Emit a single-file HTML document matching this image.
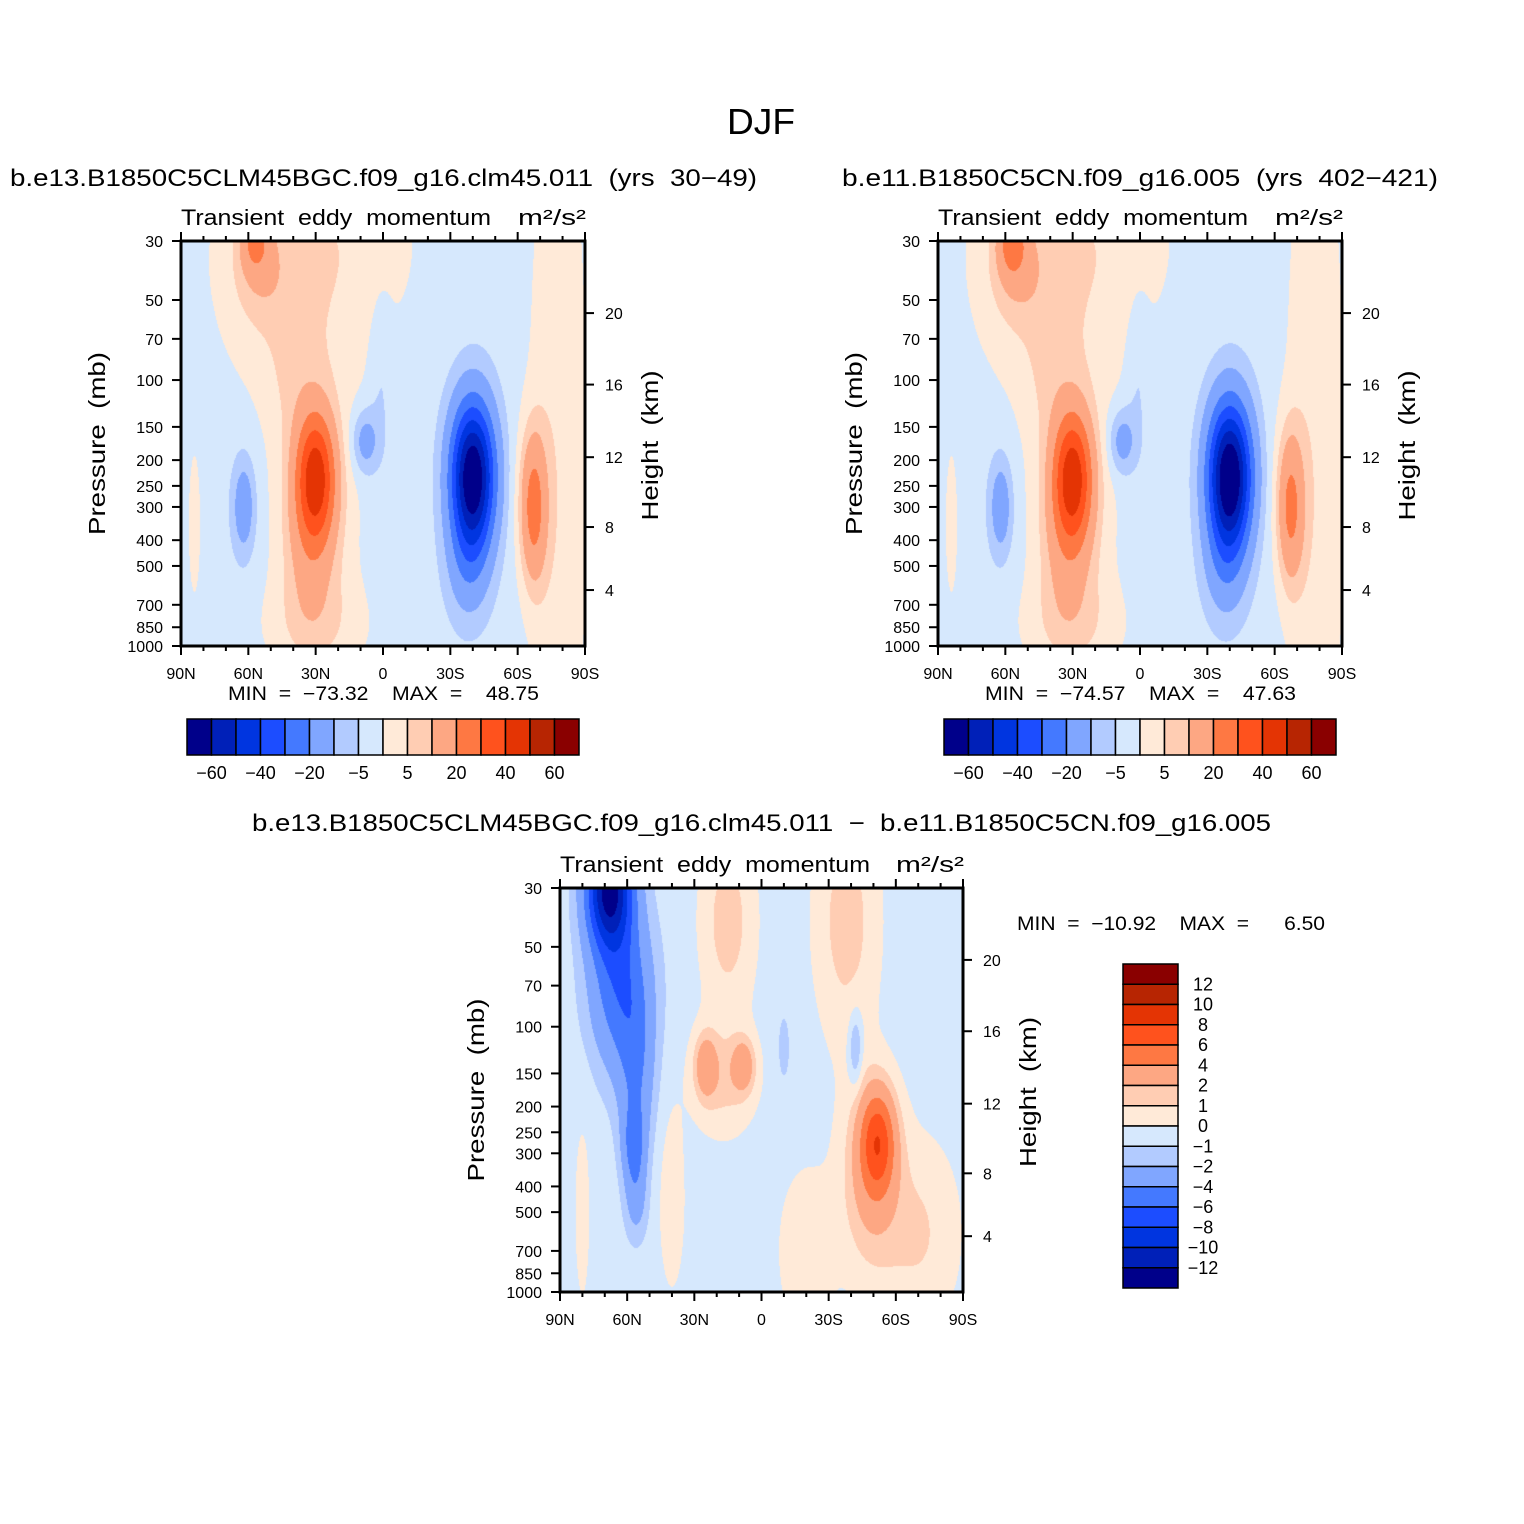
<!DOCTYPE html>
<html><head><meta charset="utf-8"><style>
html,body{margin:0;padding:0;background:#fff;}
#wrap{position:relative;width:1524px;height:1524px;overflow:hidden;}
canvas{position:absolute;}
svg{position:absolute;left:0;top:0;}
text{font-family:"Liberation Sans",sans-serif;fill:#000;white-space:pre;}
</style></head><body>
<div id="wrap">
<canvas id="c1" width="404" height="405" style="left:181px;top:241px"></canvas>
<canvas id="c2" width="404" height="405" style="left:938px;top:241px"></canvas>
<canvas id="c3" width="403" height="404" style="left:560px;top:888px"></canvas>
<svg id="svg" width="1524" height="1524"></svg>
</div>
<script>
// ---- data ----
const latTickLabels = ["90N","60N","30N","0","30S","60S","90S"];
const latTickValues = [90,60,30,0,-30,-60,-90];
const presTicks = [30,50,70,100,150,200,250,300,400,500,700,850,1000];
const heightTickLabels = ["20","16","12","8","4"];
const heightTickPress = [56,104,195,357,616];
const mainLevels = [-60,-50,-40,-30,-20,-10,-5,0,5,10,20,30,40,50,60];
const mainLabelLevels = ["-60","-40","-20","-5","5","20","40","60"];
const diffLevels = [-12,-10,-8,-6,-4,-2,-1,0,1,2,4,6,8,10,12];
const colors = ["#00008a","#0020b8","#0035e0","#1c4dff","#4479ff","#80a6ff","#b2cbff","#d6e8fd","#ffead8","#ffcdb3","#fda783","#fe7843","#ff521d","#e43404","#b72502","#8a0000"];
// blobs: [lat, pressure(mb), amplitude, latWidth, logPressureWidth]
const base1 = -3;
const blobs1 = [
 [30,230,40,8.5,0.24],[31,30,8,44,0.4],[38,80,3.5,35,0.3],[30,300,9,18,0.45],[30,850,6,25,0.2],
 [55,38,8,12,0.2],[42,100,3,11,0.3],[33,420,8,11,0.3],
 [57,30,16,6,0.11],[-40,230,-68,9.5,0.27],[-38,480,-11,9,0.22],[8,170,-12,6,0.12],[1,90,-4,5,0.3],
 [-67,300,25,6,0.28],[-78,200,7,14,1.5],[62,300,-13,5,0.18],[84,350,6,3,0.3]
];
const base2 = -3;
const blobs2 = [
 [30,230,40,8.5,0.24],[31,30,8,44,0.4],[38,80,3.5,35,0.3],[30,300,9,18,0.45],[30,850,6,25,0.2],
 [55,38,9,12,0.2],[42,100,3,11,0.3],[33,420,8,11,0.3],
 [57,30,19,6,0.12],[-40,230,-70,9.5,0.27],[-38,480,-11,9,0.22],[8,170,-12,6,0.12],[1,90,-4,5,0.3],
 [-67,300,23,6,0.28],[-78,200,7,14,1.5],[62,300,-13,5,0.18],[84,350,6,3,0.3]
];
const base3 = -0.5;
const blobs3 = [
 [68,30,-12,10,0.22],[63,70,-5,13,0.3],[56,150,-3,8,0.3],[57,280,-3.5,5,0.15],[56,450,-2,5,0.15],
 [-52,270,6.5,8,0.2],[-48,380,2.5,13,0.35],[25,140,3,5,0.12],[8,140,3,5,0.1],[17,160,1.8,14,0.2],
 [15,40,2,12,0.35],[-38,40,2,14,0.45],[-70,600,1.6,18,0.35],[-20,700,1.4,12,0.3],
 [-42,120,-2.2,3,0.14],[-10,120,-1.2,2.5,0.12],
 [40,450,1.2,6,0.35],[80,500,0.9,4,0.4]
];
// ---- rendering ----
function field(lat,p,base,blobs){
 let v=base, lp=Math.log10(p);
 for(const b of blobs){const dx=(lat-b[0])/b[3], dy=(lp-Math.log10(b[1]))/b[4]; v+=b[2]*Math.exp(-dx*dx-dy*dy);}
 return v;
}
function colorFor(v,levels){let i=0;while(i<levels.length&&v>=levels[i])i++;return colors[i];}
function drawCanvas(id,base,blobs,levels){
 const c=document.getElementById(id),ctx=c.getContext('2d'),W=c.width,H=c.height,s=1;
 for(let x=0;x<W;x+=s)for(let y=0;y<H;y+=s){
  const lat=90-(x+s/2)/W*180, p=30*Math.pow(1000/30,(y+s/2)/H);
  ctx.fillStyle=colorFor(field(lat,p,base,blobs),levels);ctx.fillRect(x,y,s,s);
 }
}
drawCanvas('c1',base1,blobs1,mainLevels);
drawCanvas('c2',base2,blobs2,mainLevels);
drawCanvas('c3',base3,blobs3,diffLevels);
const svg=document.getElementById('svg'),NS="http://www.w3.org/2000/svg";
function el(tag,attrs,parent){const e=document.createElementNS(NS,tag);for(const k in attrs)e.setAttribute(k,attrs[k]);(parent||svg).appendChild(e);return e;}
function txt(x,y,s,size,anchor,len){const t=el('text',{x:x,y:y,'font-size':size,'text-anchor':anchor||'start'});if(len){t.setAttribute('textLength',len);t.setAttribute('lengthAdjust','spacingAndGlyphs');}t.textContent=s;return t;}
function panel(L,T,W,H,name){
 const g=el('g',{});
 
 
 const xs=lat=>L+(90-lat)/180*W, ys=p=>T+Math.log(p/30)/Math.log(1000/30)*H;
 el('rect',{x:L,y:T,width:W,height:H,fill:'none',stroke:'#000','stroke-width':3},g);
 for(let lat=90;lat>=-90;lat-=10){
  const maj=lat%30===0,len=maj?9:5,x=xs(lat);
  el('line',{x1:x,y1:T,x2:x,y2:T-len,stroke:'#000','stroke-width':2},g);
  el('line',{x1:x,y1:T+H,x2:x,y2:T+H+len,stroke:'#000','stroke-width':2},g);
 }
 latTickValues.forEach((v,i)=>{const t=txt(xs(v),T+H+33,latTickLabels[i],16,'middle');g.appendChild(t);});
 presTicks.forEach(p=>{const y=ys(p);el('line',{x1:L,y1:y,x2:L-9,y2:y,stroke:'#000','stroke-width':2},g);const t=txt(L-18,y+6,String(p),16,'end');g.appendChild(t);});
 heightTickPress.forEach((p,i)=>{const y=ys(p);el('line',{x1:L+W,y1:y,x2:L+W+9,y2:y,stroke:'#000','stroke-width':2},g);const t=txt(L+W+20,y+6,heightTickLabels[i],16,'start');g.appendChild(t);});
 const yl=txt(0,0,'Pressure  (mb)',23,'middle',183);yl.setAttribute('transform',`translate(${L-76},${T+H/2}) rotate(-90)`);g.appendChild(yl);
 const hl=txt(0,0,'Height  (km)',23,'middle',150);hl.setAttribute('transform',`translate(${L+W+73},${T+H/2+2}) rotate(-90)`);g.appendChild(hl);
 const tl=txt(L,T-16,'Transient  eddy  momentum',22,'start',310);g.appendChild(tl);
 const un=txt(L+W+1,T-16,'m²/s²',22,'end',68);g.appendChild(un);
}
panel(181,241,404,405,'panel-1');
panel(938,241,404,405,'panel-2');
panel(560,888,403,404,'panel-diff');
function hbar(L,T,name){
 const g=el('g',{});
 
 
 const w=392/16;
 colors.forEach((c,i)=>{const r=el('rect',{x:L+i*w,y:T,width:w,height:36,fill:c,stroke:'#000','stroke-width':1.5},g);});
 mainLabelLevels.forEach((s,i)=>{const t=txt(L+(1+2*i)*w,T+60,s.replace('-','−'),18,'middle');g.appendChild(t);});
}
hbar(187,719,'colorbar-1');
hbar(944,719,'colorbar-2');
(function(){
 const g=el('g',{});
 
 
 const L=1123,T=964,h=324/16;
 colors.slice().reverse().forEach((c,i)=>{const r=el('rect',{x:L,y:T+i*h,width:55,height:h,fill:c,stroke:'#000','stroke-width':1.5},g);});
 diffLevels.slice().reverse().forEach((v,i)=>{const t=txt(L+80,T+(i+1)*h+6,String(v).replace('-','−'),18,'middle');g.appendChild(t);});
})();
function label(x,y,s,size,anchor,len,name){const t=txt(x,y,s,size,anchor,len);}
label(761,134,'DJF',36,'middle',68,'main-title');
label(10,186,'b.e13.B1850C5CLM45BGC.f09_g16.clm45.011  (yrs  30−49)',24,'start',747,'subtitle-1');
label(842,186,'b.e11.B1850C5CN.f09_g16.005  (yrs  402−421)',24,'start',596,'subtitle-2');
label(252,831,'b.e13.B1850C5CLM45BGC.f09_g16.clm45.011  −  b.e11.B1850C5CN.f09_g16.005',24,'start',1019,'subtitle-diff');
label(228,700,'MIN  =  −73.32    MAX  =    48.75',19,'start',311,'minmax-1');
label(985,700,'MIN  =  −74.57    MAX  =    47.63',19,'start',311,'minmax-2');
label(1017,930,'MIN  =  −10.92    MAX  =      6.50',19,'start',308,'minmax-diff');
</script>
</body></html>
